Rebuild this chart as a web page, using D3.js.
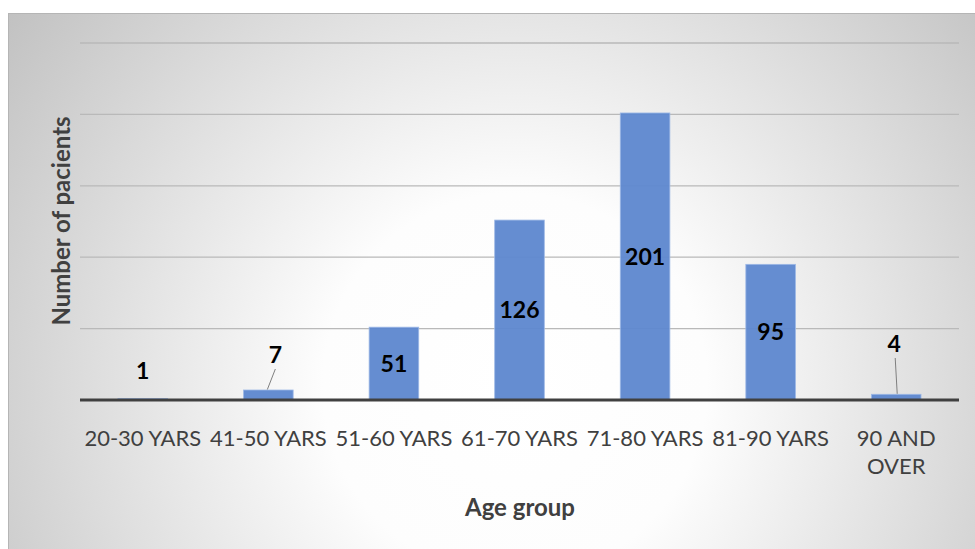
<!DOCTYPE html>
<html>
<head>
<meta charset="utf-8">
<script src="https://cdn.jsdelivr.net/npm/d3@7"></script>
<style>
  body { margin: 0; background: #fff; }
  svg { display: block; font-family: Lato, "Open Sans", sans-serif; }
</style>
</head>
<body>
<svg id="chart" width="975" height="549"></svg>
<script>
// data
var categories = ["20-30 YARS", "41-50 YARS", "51-60 YARS", "61-70 YARS", "71-80 YARS", "81-90 YARS", "90 AND OVER"];
var patients = [1, 7, 51, 126, 201, 95, 4];
var yTicks = [0, 50, 100, 150, 200, 250];

var svg = d3.select("#chart");
var W = 975, H = 549;
var plot = { left: 80, right: 959, top: 43, bottom: 400 };

// background with radial gradient
var defs = svg.append("defs");
var grad = defs.append("radialGradient")
    .attr("id", "bg")
    .attr("gradientUnits", "userSpaceOnUse")
    .attr("cx", 515).attr("cy", 385).attr("r", 640);
grad.append("stop").attr("offset", 0).attr("stop-color", "#ffffff");
grad.append("stop").attr("offset", 0.3).attr("stop-color", "#fdfdfd");
grad.append("stop").attr("offset", 1).attr("stop-color", "#c0c0c0");

svg.append("rect")
    .attr("x", 8.5).attr("y", 13.5)
    .attr("width", W - 8).attr("height", H - 13)
    .attr("fill", "url(#bg)")
    .attr("stroke", "#b5b5b5")
    .attr("stroke-width", 1);

var x = d3.scaleBand().domain(categories)
    .range([plot.left, plot.right])
    .paddingInner(0.605).paddingOuter(0.3025);
var y = d3.scaleLinear().domain([0, 250]).range([plot.bottom, plot.top]);

// gridlines
svg.append("g").selectAll("line.grid")
    .data(yTicks.slice(1))
  .enter().append("line")
    .classed("grid", true)
    .attr("x1", plot.left).attr("x2", plot.right)
    .attr("y1", function(d) { return y(d); })
    .attr("y2", function(d) { return y(d); })
    .attr("stroke", "#b9b9b9")
    .attr("stroke-width", 1.3);

// bars
svg.append("g").selectAll("rect.bar")
    .data(patients)
  .enter().append("rect")
    .classed("bar", true)
    .attr("x", function(d, i) { return x(categories[i]); })
    .attr("width", x.bandwidth())
    .attr("y", function(d) { return y(d); })
    .attr("height", function(d) { return y(0) - y(d); })
    .attr("fill", "#5f88cf")
    .attr("fill-opacity", 0.96)
    .attr("stroke", "#9db8e6")
    .attr("stroke-width", 0.8);

// baseline
svg.append("line")
    .attr("x1", plot.left).attr("x2", plot.right)
    .attr("y1", y(0)).attr("y2", y(0))
    .attr("stroke", "#404040")
    .attr("stroke-width", 3);

// x axis labels
var xAxis = d3.axisBottom(x).tickSize(0).tickPadding(0);
var gx = svg.append("g")
    .attr("transform", "translate(0," + (y(0) + 38) + ")")
    .call(xAxis);
gx.select(".domain").remove();
gx.selectAll("text")
    .attr("font-family", "Lato, 'Open Sans', sans-serif")
    .attr("font-size", 22)
    .attr("fill", "#404040")
    .attr("dy", "0.35em")
    .each(function(d) {
      var t = d3.select(this);
      if (d.length > 10) {
        var words = d.split(" ");
        t.text(null);
        t.append("tspan").attr("x", 0).attr("dy", "0.35em").text(words.slice(0, 2).join(" "));
        t.append("tspan").attr("x", 0).attr("dy", "1.27em").text(words.slice(2).join(" "));
      }
    });

// value labels: centred in the bar, or placed above with a leader line when the bar is thin
var leaders = { "20-30 YARS": [0, 29, false], "41-50 YARS": [7, 45, true], "90 AND OVER": [-2, 56, true] };
var labels = svg.append("g");
patients.forEach(function(d, i) {
  var c = categories[i];
  var cx = x(c) + x.bandwidth() / 2;
  var lx, ly;
  if (leaders[c]) {
    lx = cx + leaders[c][0];
    ly = y(0) - leaders[c][1];
    if (leaders[c][2]) {
      labels.append("line")
        .attr("x1", c === "90 AND OVER" ? cx + 1 : cx - 1).attr("y1", y(d) - 0.5)
        .attr("x2", c === "90 AND OVER" ? cx - 1 : cx + 7).attr("y2", ly + 14)
        .attr("stroke", "#7f7f7f")
        .attr("stroke-width", 1);
    }
  } else {
    lx = cx;
    ly = (y(0) + y(d)) / 2;
  }
  labels.append("text")
    .attr("x", lx).attr("y", ly)
    .attr("dy", "0.35em")
    .attr("text-anchor", "middle")
    .attr("font-size", 23)
    .attr("font-weight", "bold")
    .attr("fill", "#000")
    .text(d);
});

// axis titles
svg.append("text")
    .attr("x", 520).attr("y", 508)
    .attr("dy", "0.35em")
    .attr("text-anchor", "middle")
    .attr("font-size", 24)
    .attr("font-weight", "bold")
    .attr("fill", "#404040")
    .text("Age group");

svg.append("text")
    .attr("transform", "translate(62," + 221 + ") rotate(-90)")
    .attr("dy", "0.35em")
    .attr("text-anchor", "middle")
    .attr("font-size", 24)
    .attr("font-weight", "bold")
    .attr("fill", "#404040")
    .text("Number of pacients");
</script>
</body>
</html>
